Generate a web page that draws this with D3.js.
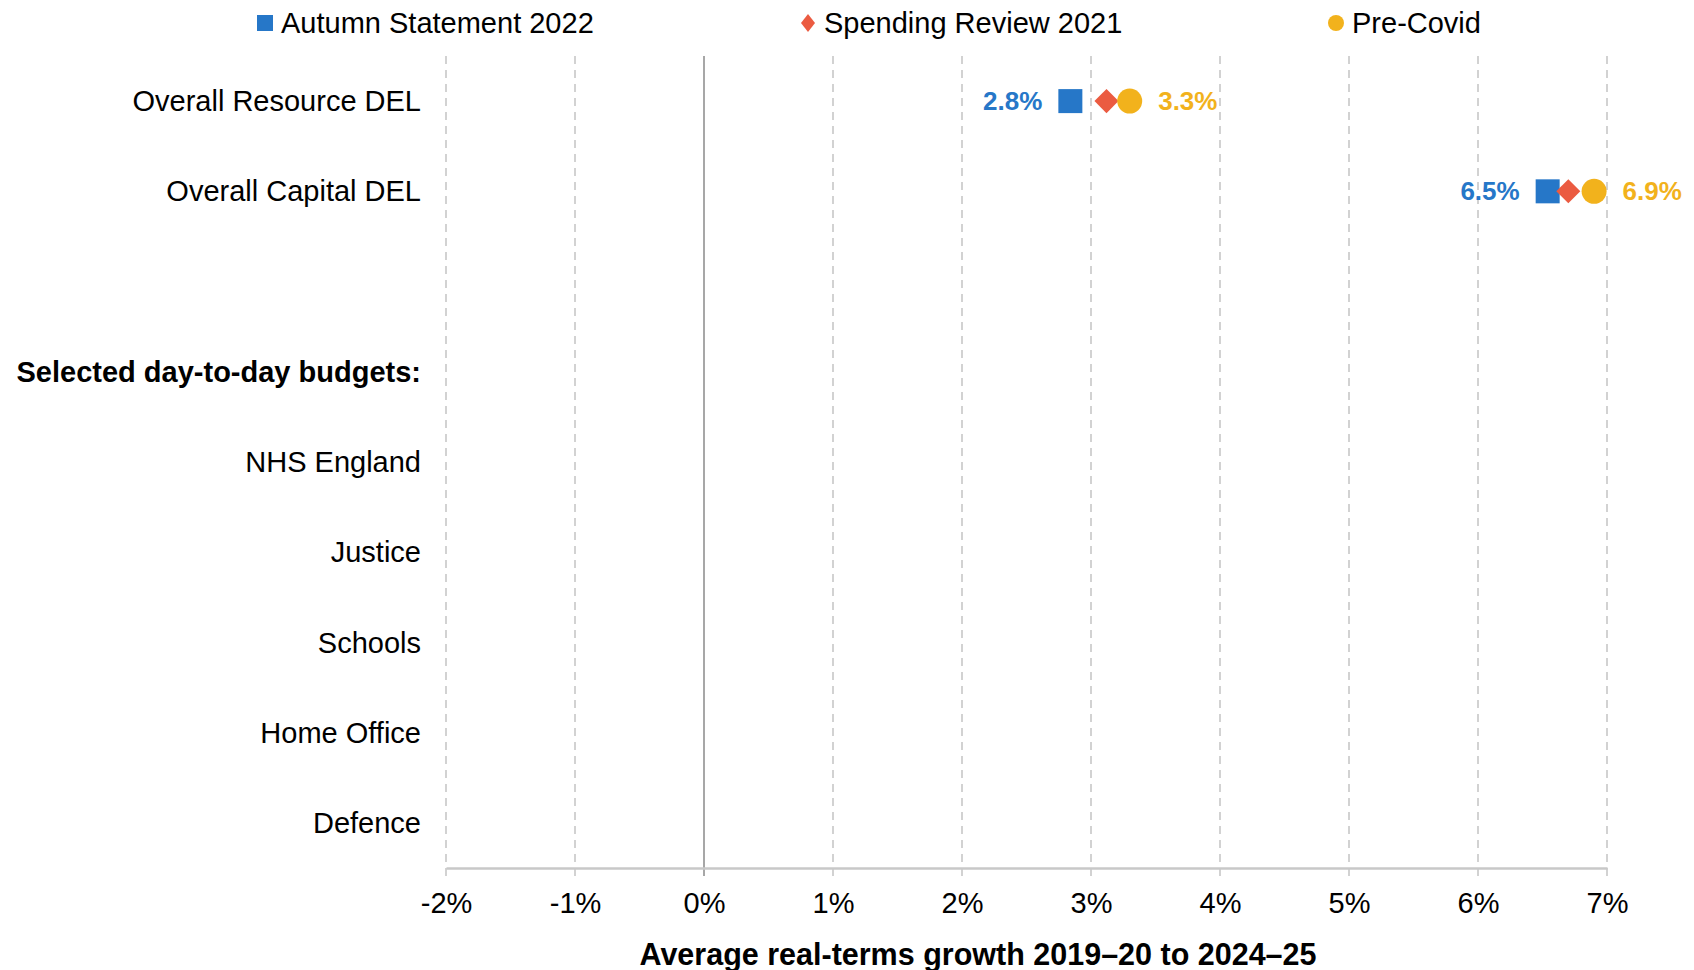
<!DOCTYPE html>
<html>
<head>
<meta charset="utf-8">
<script src="https://cdn.jsdelivr.net/npm/d3@7"></script>
<style>
  body { margin: 0; background: #fff; }
  svg text { font-family: "Liberation Sans", Arial, sans-serif; fill: #000; }
</style>
</head>
<body>
<svg id="chart" width="1694" height="970"></svg>
<script>
// Row labels (one empty spacer row between the totals and the departments)
const rowLabels = ["Overall Resource DEL", "Overall Capital DEL", "", "Selected day-to-day budgets:",
  "NHS England", "Justice", "Schools", "Home Office", "Defence"];
const boldRows = ["Selected day-to-day budgets:"];

// Series values, % average real-terms growth (null = not shown)
const autumn2022 = [2.84, 6.54, null, null, null, null, null, null, null];
const spending2021 = [3.12, 6.70, null, null, null, null, null, null, null];
const preCovid = [3.30, 6.90, null, null, null, null, null, null, null];

const xTicks = [-2, -1, 0, 1, 2, 3, 4, 5, 6, 7];
const seriesNames = ["Autumn Statement 2022", "Spending Review 2021", "Pre-Covid"];
const axisTitle = "Average real-terms growth 2019\u201320 to 2024\u201325";

const colors = { blue: "#2677c8", red: "#eb5b41", yellow: "#f2b21c" };

const width = 1694, height = 970;
const margin = { top: 56, right: 87, bottom: 102, left: 446 };
const plotW = width - margin.left - margin.right;
const plotH = height - margin.top - margin.bottom;

const svg = d3.select("#chart");
const g = svg.append("g").attr("transform", `translate(${margin.left},${margin.top})`);

const x = d3.scaleLinear().domain([-2, 7]).range([0, plotW]);
const y = d3.scaleBand().domain(d3.range(rowLabels.length)).range([0, plotH]);

// Dashed gridlines
g.selectAll("line.grid")
  .data(xTicks.filter(d => d !== 0))
  .join("line")
  .attr("class", "grid")
  .attr("x1", d => x(d)).attr("x2", d => x(d))
  .attr("y1", 0).attr("y2", plotH + 8)
  .attr("stroke", "#c4c4c4")
  .attr("stroke-width", 1.5)
  .attr("stroke-dasharray", "8,6");

// Zero line
g.append("line")
  .attr("x1", x(0)).attr("x2", x(0))
  .attr("y1", 0).attr("y2", plotH + 8)
  .attr("stroke", "#8a8a8a")
  .attr("stroke-width", 1.5);

// X axis
const xAxis = g.append("g")
  .attr("transform", `translate(0,${plotH})`)
  .call(d3.axisBottom(x).tickValues(xTicks).tickFormat(d => d + "%").tickSize(0).tickPadding(24));
xAxis.select(".domain").attr("stroke", "#c8c8c8").attr("stroke-width", 2.5);
xAxis.selectAll("text")
  .attr("font-size", 29)
  .attr("font-family", "Liberation Sans, Arial, sans-serif")
  .attr("fill", "#000");

// Axis title
svg.append("text")
  .attr("x", 978)
  .attr("y", 965)
  .attr("text-anchor", "middle")
  .attr("font-size", 30.5)
  .attr("font-weight", "bold")
  .text(axisTitle);

// Row labels
svg.selectAll("text.row")
  .data(rowLabels)
  .join("text")
  .attr("class", "row")
  .attr("x", 421)
  .attr("y", (d, i) => margin.top + y(i) + y.bandwidth() / 2)
  .attr("dy", "0.35em")
  .attr("text-anchor", "end")
  .attr("font-size", 29)
  .attr("font-weight", d => boldRows.includes(d) ? "bold" : "normal")
  .text(d => d);

const rowY = i => y(i) + y.bandwidth() / 2;

// Markers: square (Autumn), diamond (SR21), circle (Pre-Covid)
const sq = 24;
g.selectAll("rect.autumn")
  .data(autumn2022.map((v, i) => ({ v, i })).filter(d => d.v != null))
  .join("rect")
  .attr("x", d => x(d.v) - sq / 2)
  .attr("y", d => rowY(d.i) - sq / 2)
  .attr("width", sq).attr("height", sq)
  .attr("fill", colors.blue);

const diamond = d3.symbol().type(d3.symbolSquare).size(17 * 17);
g.selectAll("path.sr")
  .data(spending2021.map((v, i) => ({ v, i })).filter(d => d.v != null))
  .join("path")
  .attr("d", diamond)
  .attr("transform", d => `translate(${x(d.v)},${rowY(d.i)}) rotate(45)`)
  .attr("fill", colors.red);

g.selectAll("circle.pre")
  .data(preCovid.map((v, i) => ({ v, i })).filter(d => d.v != null))
  .join("circle")
  .attr("cx", d => x(d.v))
  .attr("cy", d => rowY(d.i))
  .attr("r", 12.5)
  .attr("fill", colors.yellow);

// Value labels
g.selectAll("text.lab-a")
  .data(autumn2022.map((v, i) => ({ v, i })).filter(d => d.v != null))
  .join("text")
  .attr("x", d => x(d.v) - sq / 2 - 16)
  .attr("y", d => rowY(d.i))
  .attr("dy", "0.35em")
  .attr("text-anchor", "end")
  .attr("font-size", 26)
  .attr("font-weight", "bold")
  .style("fill", colors.blue)
  .text(d => d.v.toFixed(1) + "%");

g.selectAll("text.lab-p")
  .data(preCovid.map((v, i) => ({ v, i })).filter(d => d.v != null))
  .join("text")
  .attr("x", d => x(d.v) + 12.5 + 16)
  .attr("y", d => rowY(d.i))
  .attr("dy", "0.35em")
  .attr("text-anchor", "start")
  .attr("font-size", 26)
  .attr("font-weight", "bold")
  .style("fill", colors.yellow)
  .text(d => d.v.toFixed(1) + "%");

// Legend
const legendX = [265, 808, 1336];
const legend = svg.append("g");
legendX.forEach((lx, k) => {
  const cy = 23;
  if (k === 0) {
    legend.append("rect").attr("x", lx - 8).attr("y", cy - 8).attr("width", 16).attr("height", 16).attr("fill", colors.blue);
  } else if (k === 1) {
    legend.append("path").attr("d", "M0,-9L7,0L0,9L-7,0Z")
      .attr("transform", `translate(${lx},${cy})`).attr("fill", colors.red);
  } else {
    legend.append("circle").attr("cx", lx).attr("cy", cy).attr("r", 8).attr("fill", colors.yellow);
  }
  legend.append("text")
    .attr("x", lx + 16)
    .attr("y", cy)
    .attr("dy", "0.35em")
    .attr("font-size", 29)
    .text(seriesNames[k]);
});
</script>
</body>
</html>
